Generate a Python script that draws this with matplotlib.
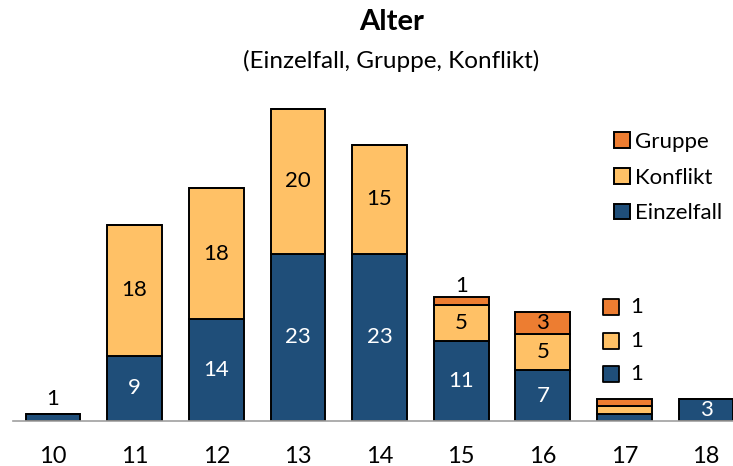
import numpy as np
import matplotlib.pyplot as plt

plt.rcParams['font.family'] = ['Lato', 'DejaVu Sans']

alter = [10, 11, 12, 13, 14, 15, 16, 17, 18]
einzelfall = [1, 9, 14, 23, 23, 11, 7, 1, 3]
konflikt = [0, 18, 18, 20, 15, 5, 5, 1, 0]
gruppe = [0, 0, 0, 0, 0, 1, 3, 1, 0]

c_einzel = '#1F4E79'
c_konflikt = '#FFC166'
c_gruppe = '#ED7D31'

fig = plt.figure(figsize=(7.33, 4.66), dpi=100)
ax = fig.add_axes([13 / 733, 45 / 466, 720 / 733, 327 / 466])

x = np.array(alter)
e = np.array(einzelfall)
k = np.array(konflikt)
g = np.array(gruppe)
w = 0.67
kw = dict(width=w, edgecolor='black', linewidth=1.4)

b1 = ax.bar(x, e, color=c_einzel, label='Einzelfall', **kw)
b2 = ax.bar(x, k, bottom=e, color=c_konflikt, label='Konflikt', **kw)
b3 = ax.bar(x, g, bottom=e + k, color=c_gruppe, label='Gruppe', **kw)

fs = 16
for xi, ei, ki, gi in zip(x, e, k, g):
    if xi == 17:
        continue
    if ei >= 3:
        ax.text(xi, ei / 2, str(ei), ha='center', va='center', color='white', fontsize=fs)
    elif ei > 0:
        ax.text(xi, ei + 0.6, str(ei), ha='center', va='bottom', color='black', fontsize=fs)
    if ki > 0:
        ax.text(xi, ei + ki / 2, str(ki), ha='center', va='center', color='black', fontsize=fs)
    if gi >= 3:
        ax.text(xi, ei + ki + gi / 2, str(gi), ha='center', va='center', color='black', fontsize=fs)
    elif gi > 0:
        ax.text(xi, ei + ki + gi + 0.2, str(gi), ha='center', va='bottom', color='black', fontsize=fs)

# small bar at 17: values listed beside it with colour keys
i17 = alter.index(17)
for val, col, yy in [(gruppe[i17], c_gruppe, 15.7),
                     (konflikt[i17], c_konflikt, 11.0),
                     (einzelfall[i17], c_einzel, 6.5)]:
    ax.scatter(16.83, yy, marker='s', s=120, color=col, edgecolor='black', linewidth=1.3, zorder=3)
    ax.text(17.15, yy, str(val), ha='center', va='center', fontsize=fs)

ax.set_xlim(9.51, 18.33)
ax.set_ylim(0, 45)
ax.set_xticks(alter)
ax.set_xticklabels([str(a) for a in alter], fontsize=17)
ax.tick_params(axis='x', length=0, pad=18)
ax.set_yticks([])
for s in ['top', 'right', 'left']:
    ax.spines[s].set_visible(False)
ax.spines['bottom'].set_color('#A0A0A0')
ax.spines['bottom'].set_linewidth(1.2)

ax.legend(handles=[b3, b2, b1], loc='upper left', bbox_to_anchor=(0.807, 0.945),
          frameon=False, fontsize=16, handlelength=0.7, handleheight=0.7,
          handletextpad=0.25, labelspacing=0.7)

fig.text(0.534, 0.952, 'Alter', ha='center', va='center', fontsize=21, fontweight='bold')
fig.text(0.534, 0.870, '(Einzelfall, Gruppe, Konflikt)', ha='center', va='center', fontsize=17.5)

fig.savefig('out.png', dpi=100)
